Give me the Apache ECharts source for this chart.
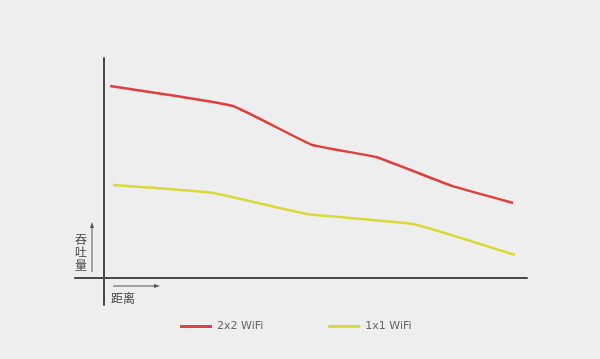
<!DOCTYPE html>
<html>
<head>
<meta charset="utf-8">
<script src="https://cdn.jsdelivr.net/npm/echarts@6/dist/echarts.min.js"></script>
<style>
html,body{margin:0;padding:0;background:#eeeeee;}
#c{width:600px;height:359px;}
</style>
</head>
<body>
<div id="c"></div>
<script>
// Data (distance units, throughput units)
var seriesNames = ['2x2 WiFi', '1x1 WiFi'];
var red2x2 = [[0.21, 7.11], [4.45, 6.37], [7.18, 4.93], [9.39, 4.48], [12.01, 3.41], [14.12, 2.78]];
var yellow1x1 = [[0.31, 3.44], [3.76, 3.15], [7.01, 2.37], [10.67, 2.0], [14.19, 0.85]];
var xLabel = '距离';
var yLabel = '吞吐量';

var chart = echarts.init(document.getElementById('c'), null, {renderer: 'canvas'});
var axisColor = '#4a4a4a';
chart.setOption({
  backgroundColor: '#eeeeee',
  animation: false,
  grid: {left: 75, top: 58, width: 452, height: 247},
  xAxis: {
    type: 'value', min: -1, max: 14.6,
    axisLine: {show: true, onZero: true, lineStyle: {color: axisColor, width: 2}},
    axisTick: {show: false}, axisLabel: {show: false}, splitLine: {show: false}
  },
  yAxis: {
    type: 'value', min: -1, max: 8.148,
    axisLine: {show: true, onZero: true, lineStyle: {color: axisColor, width: 2}},
    axisTick: {show: false}, axisLabel: {show: false}, splitLine: {show: false}
  },
  legend: {
    left: 175, top: 316, itemWidth: 32, itemHeight: 3, itemGap: 65, icon: 'rect',
    textStyle: {color: '#666', fontSize: 11, fontFamily: 'DejaVu Sans'},
    data: seriesNames
  },
  series: [
    {name: seriesNames[0], type: 'line', data: red2x2, showSymbol: false, smooth: 0.1,
     lineStyle: {color: '#de3f3f', width: 2.5}, itemStyle: {color: '#de3f3f'}},
    {name: seriesNames[1], type: 'line', data: yellow1x1, showSymbol: false, smooth: 0.1,
     lineStyle: {color: '#d9d93a', width: 2.5}, itemStyle: {color: '#d9d93a'}}
  ],
  graphic: [
    {type: 'line', shape: {x1: 92, y1: 226, x2: 92, y2: 272}, style: {stroke: '#555', lineWidth: 1}},
    {type: 'polygon', shape: {points: [[92, 222], [90, 228], [94, 228]]}, style: {fill: '#555'}},
    {type: 'text', left: 75, top: 233, style: {text: yLabel.split('').join('\n'), fill: '#444', font: '12px "Noto Sans CJK SC"', lineHeight: 13}},
    {type: 'line', shape: {x1: 113, y1: 286, x2: 156, y2: 286}, style: {stroke: '#555', lineWidth: 1}},
    {type: 'polygon', shape: {points: [[160, 286], [154, 284], [154, 288]]}, style: {fill: '#555'}},
    {type: 'text', left: 111, top: 292, style: {text: xLabel, fill: '#444', font: '12px "Noto Sans CJK SC"'}}
  ]
});
</script>
</body>
</html>
